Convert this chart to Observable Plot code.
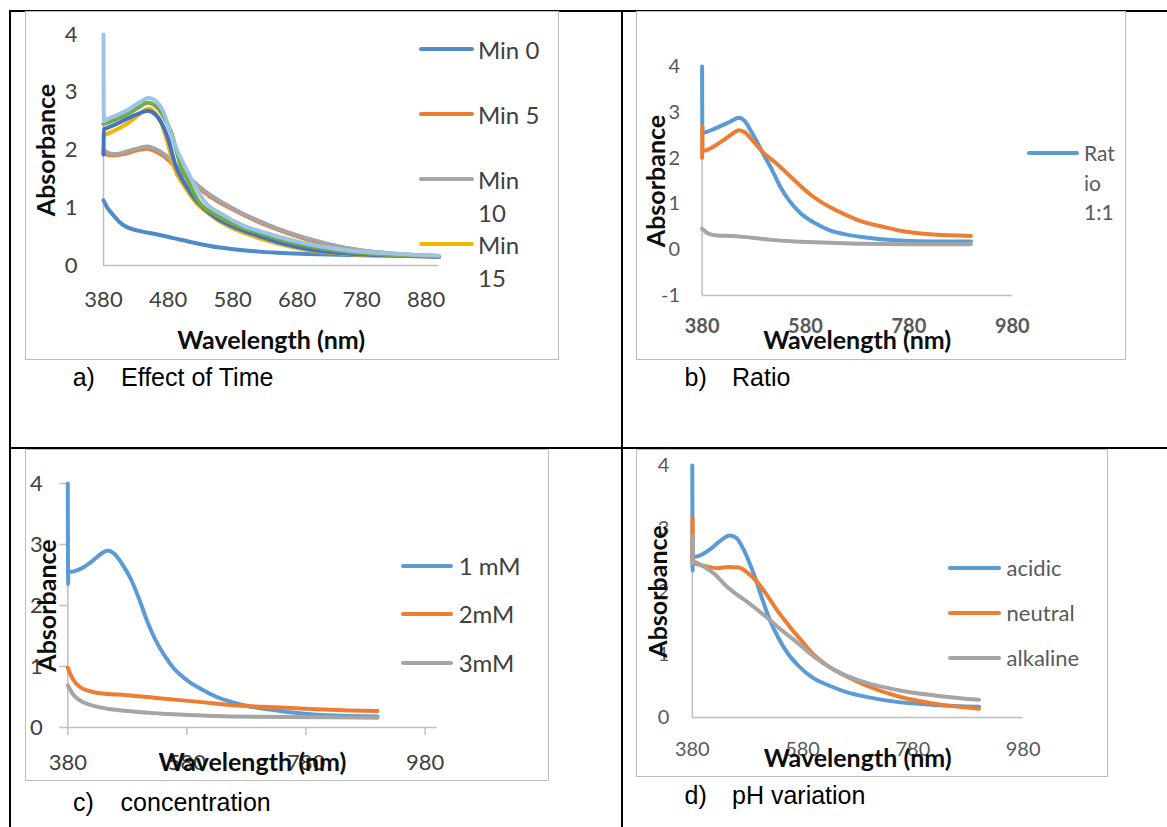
<!DOCTYPE html>
<html><head><meta charset="utf-8">
<script src="https://cdn.jsdelivr.net/npm/d3@7"></script>
<script src="https://cdn.jsdelivr.net/npm/@observablehq/plot@0.6"></script>
<style>
html,body{margin:0;padding:0;background:#fff;}
#page{position:relative;width:1167px;height:827px;overflow:hidden;background:#fff;font-family:Lato,"Noto Sans",sans-serif;}
.abs{position:absolute;}
.tline{position:absolute;background:#000;}
.box{position:absolute;border:1.5px solid #BDBDBD;box-sizing:border-box;pointer-events:none;}
.cap{position:absolute;font-family:"Liberation Sans",Arial,sans-serif;font-size:25px;color:#000;white-space:nowrap;transform:translateY(-50%);}
.legline{position:absolute;height:4px;border-radius:2px;}
.legtext{position:absolute;white-space:pre;}
svg{display:block;}
</style></head>
<body><div id="page"></div>
<script>
// ---------- data ----------
// a) Effect of time
const timeNames = ["Min 0","Min 5","Min 10","Min 15"];
const timeLegendLines = [["Min 0"],["Min 5"],["Min","10"],["Min","15"]];
const timeMin0 = [[380,1.13],[386,1.0],[393,0.9],[405,0.75],[417,0.66],[435,0.6],[458,0.55],[490,0.47],[518,0.4],[560,0.31],[601,0.26],[650,0.22],[696,0.2],[760,0.18],[830,0.17],[898,0.17]];
const timeMin5 = [[380,1.95],[390,1.91],[400,1.91],[415,1.94],[430,1.99],[447,2.02],[460,1.98],[475,1.88],[494,1.68],[515,1.47],[542,1.22],[577,0.99],[636,0.68],[696,0.45],[755,0.3],[814,0.22],[860,0.18],[900,0.16]];
const timeMin10 = [[380,2.0],[390,1.94],[400,1.93],[415,1.97],[430,2.02],[447,2.06],[460,2.02],[475,1.92],[494,1.72],[515,1.5],[542,1.25],[577,1.01],[636,0.7],[696,0.47],[755,0.31],[814,0.22],[860,0.18],[900,0.15]];
const timeMin15 = [[380,2.25],[390,2.3],[405,2.38],[425,2.52],[440,2.66],[450,2.72],[460,2.64],[470,2.45],[480,2.1],[490,1.68],[505,1.38],[521,1.12],[545,0.88],[570,0.7],[601,0.55],[650,0.38],[696,0.27],[760,0.2],[830,0.17],[900,0.15]];
const timeMin20 = [[380,1.92],[380.5,2.36],[385,2.38],[400,2.45],[420,2.56],[435,2.63],[448,2.68],[460,2.62],[470,2.47],[480,2.2],[492,1.72],[507,1.4],[524,1.12],[550,0.86],[575,0.7],[610,0.55],[655,0.39],[705,0.27],[770,0.2],[840,0.17],[900,0.15]];
const timeMin25 = [[380,2.45],[385,2.47],[400,2.53],[420,2.64],[435,2.74],[448,2.82],[460,2.77],[472,2.6],[485,2.3],[500,1.72],[513,1.42],[527,1.12],[555,0.87],[585,0.7],[625,0.55],[675,0.39],[735,0.27],[800,0.2],[860,0.17],[900,0.16]];
const timeMin30 = [[380,4.0],[380.5,2.5],[385,2.53],[400,2.6],[420,2.71],[435,2.82],[450,2.9],[462,2.84],[475,2.6],[482,2.35],[493,2.02],[506,1.72],[520,1.42],[536,1.12],[565,0.88],[595,0.7],[636,0.55],[690,0.39],[755,0.27],[820,0.21],[900,0.17]];
const timeSeries = [timeMin0,timeMin5,timeMin10,timeMin15,timeMin20,timeMin25,timeMin30];
const timeColors = ["#4F8AC9","#ED7D31","#A5A5A5","#F2B600","#4472C4","#70AD47","#9DC3E6"];
const timeXTicks = [380,480,580,680,780,880];
const timeYTicks = [0,1,2,3,4];

// b) Ratio
const ratioNames = ["Ratio 1:1"];
const ratioLegendLines = [["Rat","io","1:1"]];
const ratioA = [[380,4.0],[380.5,2.55],[385,2.56],[400,2.62],[420,2.72],[435,2.8],[451,2.88],[463,2.8],[475,2.58],[485,2.38],[495,2.16],[515,1.75],[532,1.36],[550,1.05],[572,0.78],[600,0.57],[627,0.42],[660,0.33],[693,0.27],[761,0.2],[830,0.18],[900,0.18]];
const ratioB = [[380,2.0],[380.5,2.7],[381,2.15],[390,2.18],[405,2.27],[420,2.38],[435,2.5],[451,2.61],[463,2.56],[475,2.42],[495,2.16],[526,1.86],[545,1.66],[560,1.5],[590,1.2],[627,0.93],[660,0.75],[693,0.6],[730,0.5],[761,0.42],[828,0.33],[900,0.3]];
const ratioC = [[380,0.46],[388,0.38],[398,0.33],[410,0.31],[435,0.3],[460,0.28],[510,0.22],[560,0.18],[630,0.15],[693,0.13],[800,0.12],[900,0.12]];
const ratioSeries = [ratioA,ratioB,ratioC];
const ratioColors = ["#5B9BD5","#ED7D31","#A5A5A5"];
const ratioXTicks = [380,580,780,980];
const ratioYTicks = [-1,0,1,2,3,4];

// c) Concentration
const concNames = ["1 mM","2mM","3mM"];
const conc1 = [[380,4.0],[380.5,2.35],[381,2.55],[390,2.56],[405,2.62],[420,2.72],[435,2.84],[447,2.9],[458,2.85],[470,2.7],[487,2.41],[500,2.1],[513,1.75],[523,1.52],[533,1.33],[545,1.14],[557,0.98],[567,0.88],[585,0.74],[600,0.65],[630,0.5],[665,0.39],[731,0.28],[798,0.21],[850,0.19],[900,0.18]];
const conc2 = [[380,0.98],[385,0.86],[390,0.77],[401,0.66],[415,0.6],[434,0.56],[480,0.53],[533,0.48],[600,0.42],[665,0.36],[730,0.33],[798,0.3],[850,0.28],[900,0.27]];
const conc3 = [[380,0.69],[385,0.6],[390,0.53],[401,0.44],[415,0.38],[434,0.33],[480,0.27],[533,0.23],[600,0.2],[665,0.18],[800,0.17],[900,0.16]];
const concSeries = [conc1,conc2,conc3];
const concColors = ["#5B9BD5","#ED7D31","#A5A5A5"];
const concXTicks = [380,580,780,980];
const concYTicks = [0,1,2,3,4];

// d) pH variation
const phNames = ["acidic","neutral","alkaline"];
const phAcidic = [[380,4.0],[380.5,2.33],[381,2.54],[390,2.56],[400,2.6],[414,2.68],[430,2.8],[448,2.89],[460,2.85],[471,2.7],[484,2.45],[496,2.17],[508,1.85],[521,1.54],[537,1.25],[553,1.02],[575,0.8],[597,0.64],[630,0.5],[661,0.4],[700,0.32],[757,0.24],[820,0.2],[900,0.17]];
const phNeutral = [[380,2.5],[380.5,3.17],[381,2.46],[390,2.43],[405,2.4],[426,2.37],[445,2.39],[464,2.38],[480,2.3],[496,2.17],[515,1.95],[534,1.7],[556,1.45],[578,1.22],[600,1.0],[629,0.8],[660,0.65],[692,0.52],[756,0.33],[819,0.22],[900,0.14]];
const phAlkaline = [[380,2.45],[380.5,2.89],[381,2.49],[390,2.45],[400,2.4],[420,2.28],[440,2.1],[458,1.97],[485,1.8],[515,1.59],[540,1.4],[566,1.22],[590,1.04],[616,0.87],[650,0.7],[692,0.56],[756,0.43],[820,0.35],[900,0.28]];
const phSeries = [phAcidic,phNeutral,phAlkaline];
const phColors = ["#5B9BD5","#ED7D31","#A5A5A5"];
const phXTicks = [380,580,780,980];
const phYTicks = [0,1,2,3,4];

const xTitle = "Wavelength (nm)";
const yTitle = "Absorbance";

// ---------- drawing ----------
const page = document.getElementById("page");
const axisGray = "#BFBFBF";

function tableLine(l,t,w,h){const d=document.createElement("div");d.className="tline";Object.assign(d.style,{left:l+"px",top:t+"px",width:w+"px",height:h+"px"});page.appendChild(d);}

function panel(cfg){
  const marks = [
    Plot.ruleY([cfg.yDomain[0]], {stroke: axisGray, strokeWidth: 1.5}),
    Plot.ruleX([cfg.xDomain[0]], {stroke: axisGray, strokeWidth: 1.5}),
    Plot.axisX(cfg.xTicks, {tickSize: cfg.tick, tickPadding: cfg.xPad, fontSize: cfg.tickFont, fontWeight: cfg.xBold ? "bold" : "normal", fill: cfg.tickColor, stroke: axisGray, strokeWidth: 1.5, label: null, tickFormat: d => String(d)}),
    Plot.axisY(cfg.yTicks, {tickSize: cfg.tick, tickPadding: cfg.yPad, fontSize: cfg.tickFont, fill: cfg.tickColor, stroke: axisGray, strokeWidth: 1.5, label: null, tickFormat: d => String(d)}),
    ...cfg.series.map((s,i) => Plot.line(s, {x: d => d[0], y: d => d[1], stroke: cfg.colors[i], strokeWidth: 4, curve: "monotone-x", strokeLinejoin: "round", strokeLinecap: "round"})),
    Plot.text([xTitle], {text: d => d, frameAnchor: "bottom", dy: cfg.xTitleDy, fontSize: 25, fontWeight: "bold", fill: "#0d0d0d", lineAnchor: "middle", textAnchor: "middle"}),
    Plot.text([yTitle], {text: d => d, frameAnchor: "left", dx: cfg.yTitleDx, rotate: -90, fontSize: 25, fontWeight: "bold", fill: "#0d0d0d", lineAnchor: "middle", textAnchor: "middle"})
  ];
  const svg = Plot.plot({
    width: cfg.w, height: cfg.h,
    marginLeft: cfg.mL, marginRight: cfg.mR, marginTop: cfg.mT, marginBottom: cfg.mB,
    x: {domain: cfg.xDomain}, y: {domain: cfg.yDomain},
    style: {fontFamily: "Lato, 'Noto Sans', sans-serif", background: "transparent", overflow: "visible"},
    marks
  });
  const wrap = document.createElement("div");
  wrap.className = "abs";
  Object.assign(wrap.style, {left: cfg.left+"px", top: cfg.top+"px", width: cfg.w+"px", height: cfg.h+"px"});
  wrap.appendChild(svg);
  page.appendChild(wrap);
  const box = document.createElement("div");
  box.className = "box";
  Object.assign(box.style, {left: cfg.left+"px", top: cfg.top+"px", width: cfg.w+"px", height: cfg.h+"px"});
  page.appendChild(box);
}

function legend(lines, colors, o){
  lines.forEach((ls,i) => {
    const y = o.ys[i];
    const ln = document.createElement("div");
    ln.className = "legline";
    Object.assign(ln.style, {left: o.x1+"px", top: (y-2)+"px", width: (o.x2-o.x1)+"px", background: colors[i]});
    page.appendChild(ln);
    const t = document.createElement("div");
    t.className = "legtext";
    t.textContent = ls.join("\n");
    Object.assign(t.style, {left: o.tx+"px", top: (y - o.lh/2)+"px", fontSize: o.font+"px", lineHeight: o.lh+"px", color: o.color, fontFamily: "Lato, 'Noto Sans', sans-serif"});
    page.appendChild(t);
  });
}

function caption(label, text, x1, x2, y){
  [[label,x1],[text,x2]].forEach(([s,x]) => {
    const d = document.createElement("div");
    d.className = "cap"; d.textContent = s;
    Object.assign(d.style, {left: x+"px", top: y+"px"});
    page.appendChild(d);
  });
}

// table grid
tableLine(9, 10, 1158, 2);
tableLine(9, 446.5, 1158, 2);
tableLine(8.5, 10, 2, 817);
tableLine(620.7, 10, 2, 817);

panel({left: 24.5, top: 11, w: 534, h: 349, mL: 78, mR: 120.5, mT: 23, mB: 95,
  xDomain: [380,900], yDomain: [0,4], xTicks: timeXTicks, yTicks: timeYTicks,
  tick: 0, xPad: 26, yPad: 26, tickFont: 22, tickColor: "#404040", xBold: false,
  xTitleDy: 75, yTitleDx: -56.6, series: timeSeries, colors: timeColors});
panel({left: 635.7, top: 11, w: 490, h: 349, mL: 65.6, mR: 114.2, mT: 55, mB: 65,
  xDomain: [380,980], yDomain: [-1,4], xTicks: ratioXTicks, yTicks: ratioYTicks,
  tick: 0, xPad: 23, yPad: 22, tickFont: 20, tickColor: "#595959", xBold: true,
  xTitleDy: 45, yTitleDx: -44.7, series: ratioSeries, colors: ratioColors});
panel({left: 24.5, top: 449, w: 524, h: 332, mL: 42.3, mR: 112.4, mT: 34, mB: 54,
  xDomain: [380,1000], yDomain: [0,4], xTicks: concXTicks, yTicks: concYTicks,
  tick: 8, xPad: 19, yPad: 17, tickFont: 22, tickColor: "#404040", xBold: false,
  xTitleDy: 35, yTitleDx: -19.4, series: concSeries, colors: concColors});
panel({left: 635.7, top: 449, w: 472, h: 328, mL: 55.8, mR: 85.4, mT: 16, mB: 60,
  xDomain: [380,980], yDomain: [0,4], xTicks: phXTicks, yTicks: phYTicks,
  tick: 0, xPad: 24, yPad: 23, tickFont: 20, tickColor: "#595959", xBold: false,
  xTitleDy: 41, yTitleDx: -33.8, series: phSeries, colors: phColors});

legend(timeLegendLines, timeColors, {x1: 419, x2: 474, tx: 478, ys: [49,114,179,244], font: 24, lh: 33, color: "#404040"});
legend(ratioLegendLines, ratioColors, {x1: 1026.5, x2: 1078.8, tx: 1084, ys: [153], font: 21, lh: 29.5, color: "#595959"});
legend(concNames.map(n => [n]), concColors, {x1: 400.5, x2: 452.7, tx: 458.7, ys: [566,614,663], font: 24, lh: 30, color: "#404040"});
legend(phNames.map(n => [n]), phColors, {x1: 948, x2: 1001.4, tx: 1006.6, ys: [568,613,658], font: 22, lh: 30, color: "#595959"});

caption("a)", "Effect of Time", 72.7, 121, 377);
caption("b)", "Ratio", 684.5, 732, 377);
caption("c)", "concentration", 73, 120.6, 801.7);
caption("d)", "pH variation", 684.5, 732, 795);
</script>
</body></html>
